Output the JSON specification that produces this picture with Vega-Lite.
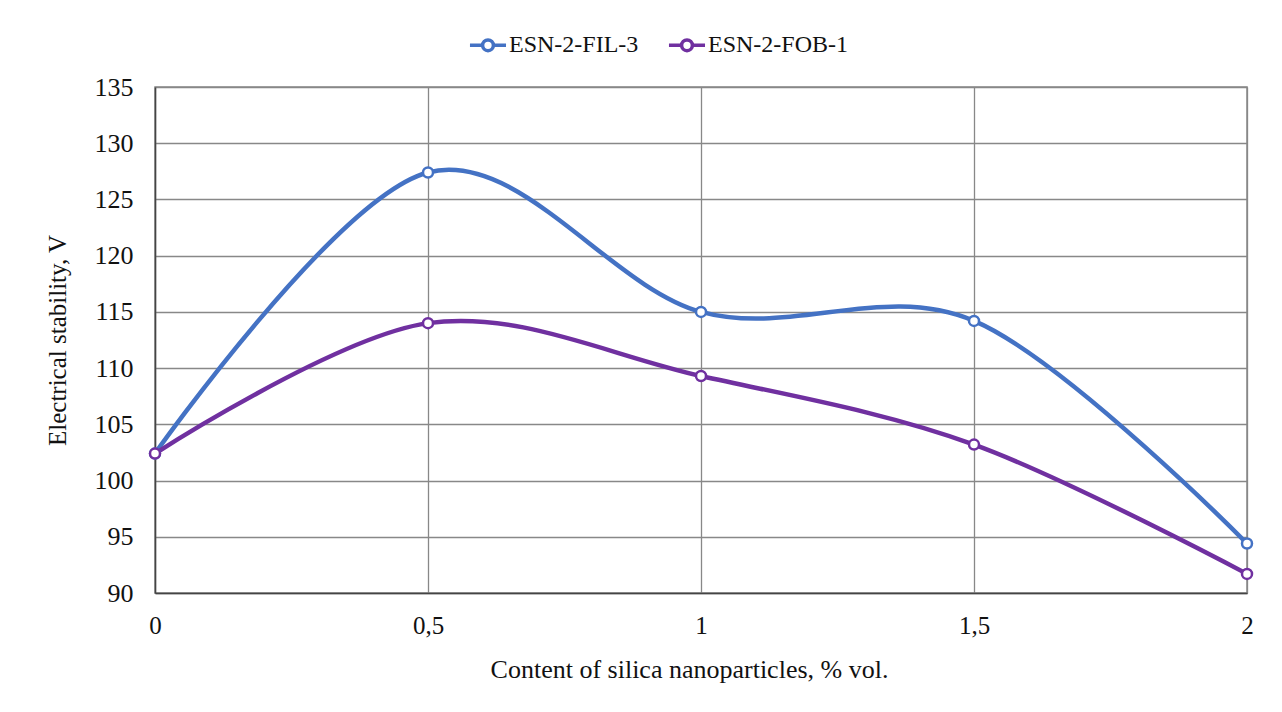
{
  "$schema": "https://vega.github.io/schema/vega-lite/v6.json",
  "width": 1092,
  "height": 506,
  "autosize": "none",
  "padding": {"left": 155, "top": 87, "right": 35, "bottom": 119},
  "background": "white",
  "config": {
    "font": "Liberation Serif",
    "view": {"stroke": "#888888", "strokeWidth": 1.5},
    "axis": {
      "labelFont": "Liberation Serif",
      "titleFont": "Liberation Serif",
      "labelColor": "#111111",
      "titleColor": "#111111",
      "titleFontWeight": "normal",
      "gridColor": "#888888",
      "gridWidth": 1.3,
      "gridOpacity": 1,
      "domainColor": "#444444",
      "domainWidth": 1.5,
      "ticks": false,
      "labelFlush": false
    }
  },
  "data": {
    "values": [
      {"x": 0, "v": 102.4, "s": "ESN-2-FIL-3"},
      {"x": 0.5, "v": 127.4, "s": "ESN-2-FIL-3"},
      {"x": 1, "v": 115.0, "s": "ESN-2-FIL-3"},
      {"x": 1.5, "v": 114.2, "s": "ESN-2-FIL-3"},
      {"x": 2, "v": 94.4, "s": "ESN-2-FIL-3"},
      {"x": 0, "v": 102.4, "s": "ESN-2-FOB-1"},
      {"x": 0.5, "v": 114.0, "s": "ESN-2-FOB-1"},
      {"x": 1, "v": 109.3, "s": "ESN-2-FOB-1"},
      {"x": 1.5, "v": 103.2, "s": "ESN-2-FOB-1"},
      {"x": 2, "v": 91.7, "s": "ESN-2-FOB-1"}
    ]
  },
  "encoding": {
    "x": {
      "field": "x",
      "type": "quantitative",
      "scale": {"domain": [0, 2], "nice": false, "zero": false},
      "axis": {
        "values": [0, 0.5, 1, 1.5, 2],
        "labelExpr": "replace(format(datum.value, '~g'), '.', ',')",
        "labelFontSize": 25,
        "labelPadding": 20,
        "labelFlush": false,
        "title": "Content of silica nanoparticles, % vol.",
        "titleFontSize": 26,
        "titlePadding": 18,
        "titleX": 534
      }
    },
    "y": {
      "field": "v",
      "type": "quantitative",
      "scale": {"domain": [90, 135], "nice": false, "zero": false},
      "axis": {
        "values": [90, 95, 100, 105, 110, 115, 120, 125, 130, 135],
        "labelFontSize": 26,
        "labelPadding": 22,
        "title": "Electrical stability, V",
        "titleFontSize": 25,
        "titlePadding": 24
      }
    },
    "color": {
      "field": "s",
      "type": "nominal",
      "scale": {"domain": ["ESN-2-FIL-3", "ESN-2-FOB-1"], "range": ["#4472C4", "#7030A0"]},
      "legend": {
        "title": null,
        "orient": "none",
        "legendX": 313,
        "legendY": -62,
        "direction": "horizontal",
        "labelFont": "Liberation Serif",
        "labelFontSize": 24,
        "labelColor": "#111111",
        "columnPadding": 22,
        "labelOffset": 1,
        "symbolType": "M-1,0H-0.3M0.3,0H1M0.3,0A0.3,0.3 0 1,1 -0.3,0A0.3,0.3 0 1,1 0.3,0Z",
        "symbolSize": 1300,
        "symbolStrokeWidth": 3.5,
        "symbolFillColor": "white"
      }
    }
  },
  "layer": [
    {
      "mark": {"type": "line", "interpolate": "cardinal", "tension": 0, "strokeWidth": 4.5}
    },
    {
      "mark": {"type": "point", "filled": false, "fill": "white", "fillOpacity": 1, "opacity": 1, "size": 100, "strokeWidth": 2.5}
    }
  ]
}
